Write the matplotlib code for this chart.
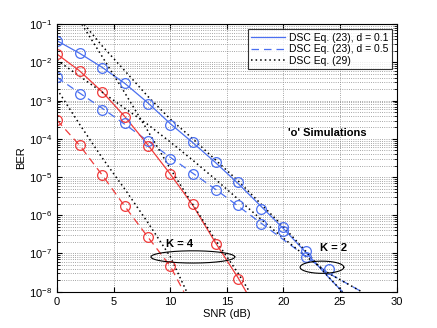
import numpy as np
import matplotlib
matplotlib.use("Agg")
import matplotlib.pyplot as plt
from matplotlib.lines import Line2D

plt.rcParams['font.family'] = ['Liberation Sans', 'DejaVu Sans']

# ---------------- data (log10 BER) ----------------
# K = 2, d = 0.1
k2_d01_line_x = [0, 2, 4, 6, 8, 10, 12, 14, 16, 18, 20, 22, 24, 25.2]
k2_d01_line = [-1.43, -1.76, -2.13, -2.55, -3.05, -3.60, -4.10, -4.62, -5.17, -5.76, -6.35, -6.98, -7.63, -8.0]
k2_d01_sim_x = [0, 2, 4, 6, 8, 10, 12, 14, 16, 18, 20, 22, 24]
k2_d01_sim = [-1.43, -1.74, -2.15, -2.54, -3.08, -3.64, -4.09, -4.61, -5.14, -5.84, -6.31, -6.93, -7.41]

# K = 2, d = 0.5
k2_d05_line_x = [0, 2, 4, 6, 8, 10, 12, 14, 16, 18, 20, 22, 24, 26.9]
k2_d05_line = [-2.39, -2.80, -3.20, -3.62, -4.05, -4.48, -4.90, -5.32, -5.76, -6.20, -6.64, -7.08, -7.52, -8.0]
k2_d05_sim_x = [0, 2, 4, 6, 8, 10, 12, 14, 16, 18, 20, 22]
k2_d05_sim = [-2.39, -2.83, -3.24, -3.59, -4.05, -4.52, -4.92, -5.35, -5.73, -6.24, -6.42, -7.10]

# K = 4, d = 0.1
k4_d01_line_x = [0, 2, 4, 6, 8, 10, 12, 14, 16, 16.7]
k4_d01_line = [-1.78, -2.22, -2.77, -3.42, -4.15, -4.92, -5.74, -6.72, -7.64, -8.0]
k4_d01_sim_x = [0, 2, 4, 6, 8, 10, 12, 14, 16]
k4_d01_sim = [-1.78, -2.22, -2.76, -3.42, -4.18, -4.92, -5.70, -6.74, -7.67]

# K = 4, d = 0.5
k4_d05_line_x = [0, 2, 4, 6, 8, 10, 11.2]
k4_d05_line = [-3.51, -4.17, -4.95, -5.77, -6.56, -7.33, -8.0]
k4_d05_sim_x = [0, 2, 4, 6, 8, 10]
k4_d05_sim = [-3.51, -4.17, -4.95, -5.77, -6.56, -7.33]

# Eq. (29) curves
eq29_a_x = [2.4, 4, 6, 8, 10, 12, 14, 16, 18, 20, 22, 24, 25.2]
eq29_a = [-1.0, -1.57, -2.22, -2.88, -3.48, -4.00, -4.55, -5.10, -5.70, -6.30, -6.95, -7.62, -8.0]
eq29_b_x = [0, 2, 4, 6, 8, 10, 12, 14, 16, 18, 20, 22, 24, 26.9]
eq29_b = [-1.94, -2.36, -2.78, -3.20, -3.62, -4.08, -4.56, -5.06, -5.58, -6.10, -6.60, -7.08, -7.52, -8.0]
eq29_c_x = [2.2, 4, 6, 8, 10, 12, 14, 16, 17]
eq29_c = [-1.0, -1.85, -2.80, -3.78, -4.78, -5.72, -6.65, -7.52, -8.0]
eq29_d_x = [0, 2, 4, 6, 8, 10, 11.45]
eq29_d = [-2.70, -3.62, -4.50, -5.32, -6.18, -7.08, -8.0]

x_ticks = [0, 5, 10, 15, 20, 25, 30]
y_ticks = [1e-8, 1e-7, 1e-6, 1e-5, 1e-4, 1e-3, 1e-2, 1e-1]

legend_labels = ['DSC Eq. (23), d = 0.1', 'DSC Eq. (23), d = 0.5', 'DSC Eq. (29)']

BLUE = '#4a6ff0'
RED = '#f03a3a'


def p(v):
    return 10.0 ** np.asarray(v)


fig = plt.figure(figsize=(4.37, 3.28), dpi=100)
ax = fig.add_axes([0.1304, 0.1107, 0.7774, 0.8153])
ax.set_yscale('log')

lw = 0.9
ax.plot(k2_d01_line_x, p(k2_d01_line), '-', color=BLUE, lw=lw)
ax.plot(k2_d05_line_x, p(k2_d05_line), '--', color=BLUE, lw=lw, dashes=(6, 4))
ax.plot(k4_d01_line_x, p(k4_d01_line), '-', color=RED, lw=lw)
ax.plot(k4_d05_line_x, p(k4_d05_line), '--', color=RED, lw=lw, dashes=(6, 4))

for xs, ys in [(eq29_a_x, eq29_a), (eq29_b_x, eq29_b), (eq29_c_x, eq29_c), (eq29_d_x, eq29_d)]:
    ax.plot(xs, p(ys), color='black', lw=1.1, linestyle=(0, (1, 2)))

mk = dict(marker='o', ms=7, mfc='none', mew=0.9, linestyle='none')
ax.plot(k2_d01_sim_x, p(k2_d01_sim), color=BLUE, **mk)
ax.plot(k2_d05_sim_x, p(k2_d05_sim), color=BLUE, **mk)
ax.plot(k4_d01_sim_x, p(k4_d01_sim), color=RED, **mk)
ax.plot(k4_d05_sim_x, p(k4_d05_sim), color=RED, **mk)

# ellipses
t = np.linspace(0, 2 * np.pi, 200)
for cx, cy, a, b in [(12.0, -7.09, 3.7, 0.16), (23.4, -7.36, 1.93, 0.16)]:
    ax.plot(cx + a * np.cos(t), p(cy + b * np.sin(t)), color='black', lw=0.8)

ax.text(10.8, p(-6.75), 'K = 4', fontsize=8, fontweight='bold', ha='center', va='center')
ax.text(24.4, p(-6.85), 'K = 2', fontsize=8, fontweight='bold', ha='center', va='center')
ax.text(23.9, p(-3.85), "'o' Simulations", fontsize=8, fontweight='bold', ha='center', va='center')

handles = [Line2D([], [], color=BLUE, lw=lw),
           Line2D([], [], color=BLUE, lw=lw, linestyle='--', dashes=(6, 4)),
           Line2D([], [], color='black', lw=1.1, linestyle=(0, (1, 2)))]
leg = ax.legend(handles, legend_labels, loc='upper right', fontsize=7.5, frameon=True,
                fancybox=False, edgecolor='black', borderpad=0.3, labelspacing=0.15,
                handlelength=3.2, handletextpad=0.4, borderaxespad=0.5)
leg.get_frame().set_linewidth(0.8)

ax.set_xlim(0, 30)
ax.set_ylim(1e-8, 1e-1)
ax.set_xticks(x_ticks)
ax.set_yticks(y_ticks)
ax.grid(True, which='major', linestyle=':', color='#888888', lw=0.6)
ax.grid(True, which='minor', axis='y', linestyle=':', color='#888888', lw=0.6)
ax.tick_params(direction='in', which='both', labelsize=8, top=True, right=True)
ax.set_xlabel('SNR (dB)', fontsize=8, labelpad=2)
ax.set_ylabel('BER', fontsize=8, labelpad=2)
for s in ax.spines.values():
    s.set_linewidth(0.8)

fig.savefig('out.png', dpi=100)
